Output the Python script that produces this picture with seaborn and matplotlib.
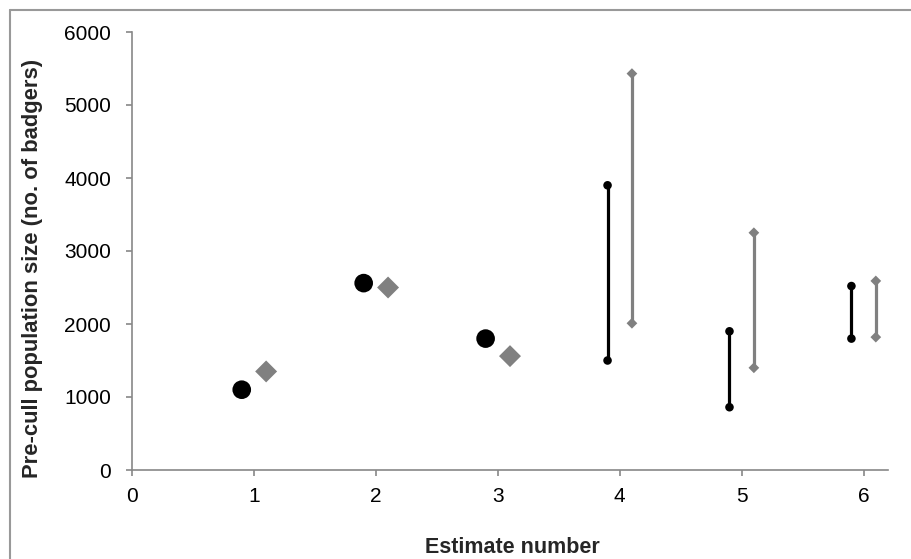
import matplotlib
matplotlib.use("Agg")
import matplotlib.pyplot as plt
import seaborn as sns
import pandas as pd
from matplotlib.lines import Line2D

# point estimates
pt_x_black = [0.9, 1.9, 2.9]
pt_y_black = [1100, 2560, 1800]
pt_x_gray = [1.1, 2.1, 3.1]
pt_y_gray = [1350, 2500, 1560]

# range estimates
rng_x_black = [3.9, 4.9, 5.9]
rng_lo_black = [1500, 860, 1800]
rng_hi_black = [3900, 1900, 2520]
rng_x_gray = [4.1, 5.1, 6.1]
rng_lo_gray = [2010, 1400, 1820]
rng_hi_gray = [5430, 3250, 2590]

x_ticks = [0, 1, 2, 3, 4, 5, 6]
y_ticks = [0, 1000, 2000, 3000, 4000, 5000, 6000]

sns.set_style("white")
plt.rcParams['font.family'] = ['Liberation Sans', 'DejaVu Sans']

BLACK = "#000000"
GRAY = "#808080"
AXC = "#888888"

fig = plt.figure(figsize=(9.12, 5.59), dpi=100)
ax = fig.add_axes([132/912, 1-470/559, (888-132)/912, (470-32)/559])

df_pb = pd.DataFrame({"x": pt_x_black, "y": pt_y_black})
df_pg = pd.DataFrame({"x": pt_x_gray, "y": pt_y_gray})
sns.scatterplot(data=df_pb, x="x", y="y", ax=ax, color=BLACK, marker="o", s=180, edgecolor="none", zorder=3)
sns.scatterplot(data=df_pg, x="x", y="y", ax=ax, color=GRAY, marker="D", s=125, edgecolor="none", zorder=3)

ax.vlines(rng_x_black, rng_lo_black, rng_hi_black, color=BLACK, linewidth=2.3, zorder=2)
ax.vlines(rng_x_gray, rng_lo_gray, rng_hi_gray, color=GRAY, linewidth=2.3, zorder=2)
df_rb = pd.DataFrame({"x": rng_x_black * 2, "y": rng_lo_black + rng_hi_black})
df_rg = pd.DataFrame({"x": rng_x_gray * 2, "y": rng_lo_gray + rng_hi_gray})
sns.scatterplot(data=df_rb, x="x", y="y", ax=ax, color=BLACK, marker="o", s=38, edgecolor="none", zorder=3)
sns.scatterplot(data=df_rg, x="x", y="y", ax=ax, color=GRAY, marker="D", s=30, edgecolor="none", zorder=3)

ax.set_xlim(0, 6.2)
ax.set_ylim(0, 6000)
ax.set_xticks(x_ticks)
ax.set_yticks(y_ticks)
ax.set_xticklabels([str(v) for v in x_ticks])
ax.set_yticklabels([str(v) for v in y_ticks])

for s in ["top", "right"]:
    ax.spines[s].set_visible(False)
for s in ["left", "bottom"]:
    ax.spines[s].set_color(AXC)
    ax.spines[s].set_linewidth(1.2)
ax.tick_params(axis="both", which="major", direction="out", length=4.5, width=1.2,
               color=AXC, labelsize=15, labelcolor="black", bottom=True, left=True)
ax.tick_params(axis="x", pad=7.5)
ax.tick_params(axis="y", pad=10.5)

ax.set_xlabel("")
ax.set_ylabel("")
fig.text(512/912, 1-553/559, "Estimate number", ha="center", va="baseline",
         fontsize=15.5, fontweight="bold")
fig.text(33/912, 1-268/559, "Pre-cull population size (no. of badgers)", ha="center", va="center",
         rotation=90, fontsize=15.8, fontweight="bold")

# figure border (left & top visible)
fig.add_artist(Line2D([10/912, 10/912], [0, 1-10/559], transform=fig.transFigure, color="#999999", linewidth=1.5))
fig.add_artist(Line2D([10/912, 1], [1-10/559, 1-10/559], transform=fig.transFigure, color="#999999", linewidth=1.5))

fig.savefig("out.png", dpi=100)
